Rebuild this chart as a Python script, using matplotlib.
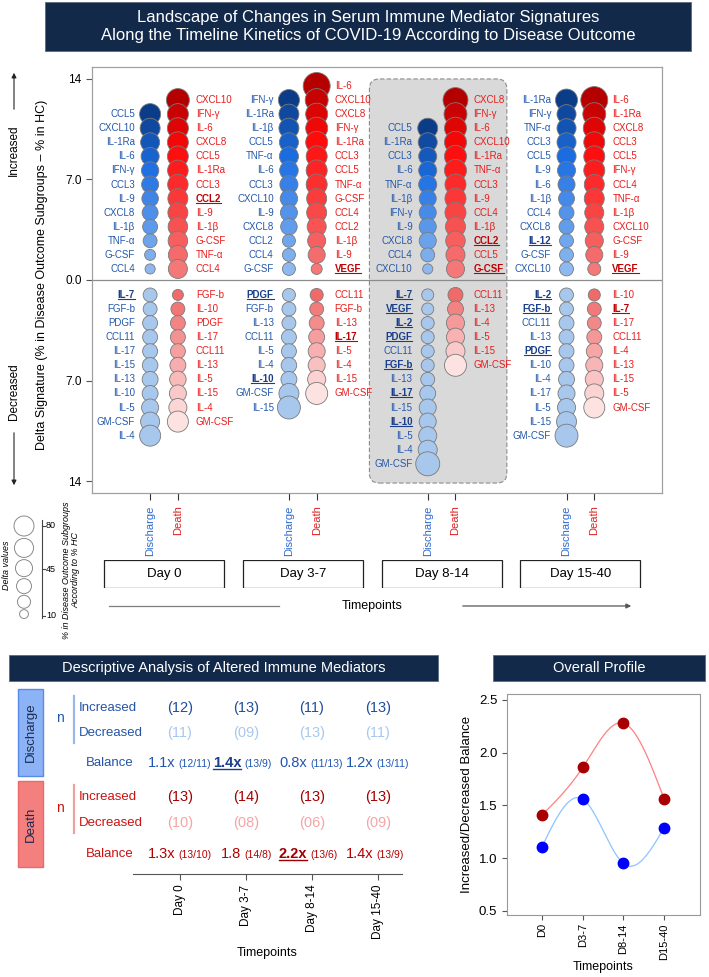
import numpy as np
import matplotlib
matplotlib.use('Agg')
import matplotlib.pyplot as plt
from matplotlib.patches import Rectangle, FancyBboxPatch
from matplotlib.lines import Line2D
from matplotlib.colors import LinearSegmentedColormap

plt.rcParams['font.family'] = ['Liberation Sans', 'DejaVu Sans']

W, H = 709, 977

# ---------------- data ----------------
days = ['Day 0', 'Day 3-7', 'Day 8-14', 'Day 15-40']
days_short = ['D0', 'D3-7', 'D8-14', 'D15-40']
groups = ['Discharge', 'Death']
boxed_day = 2

# mediators listed top to bottom, with bubble value (% in subgroup)
dis_up_names = [
    ['CCL5', 'CXCL10', 'IL-1Ra', 'IL-6', 'IFN-γ', 'CCL3', 'IL-9', 'CXCL8', 'IL-1β', 'TNF-α', 'G-CSF', 'CCL4'],
    ['IFN-γ', 'IL-1Ra', 'IL-1β', 'CCL5', 'TNF-α', 'IL-6', 'CCL3', 'CXCL10', 'IL-9', 'CXCL8', 'CCL2', 'CCL4', 'G-CSF'],
    ['CCL5', 'IL-1Ra', 'CCL3', 'IL-6', 'TNF-α', 'IL-1β', 'IFN-γ', 'IL-9', 'CXCL8', 'CCL4', 'CXCL10'],
    ['IL-1Ra', 'IFN-γ', 'TNF-α', 'CCL3', 'CCL5', 'IL-9', 'IL-6', 'IL-1β', 'CCL4', 'CXCL8', 'IL-12', 'G-CSF', 'CXCL10'],
]
dis_up_vals = [
    [73, 66, 60, 54, 50, 48, 45, 42, 37, 32, 20, 17],
    [73, 66, 66, 60, 60, 57, 54, 50, 48, 45, 28, 28, 28],
    [66, 60, 54, 54, 54, 48, 48, 48, 48, 32, 17],
    [80, 60, 60, 60, 60, 54, 48, 42, 37, 37, 32, 32, 32],
]
death_up_names = [
    ['CXCL10', 'IFN-γ', 'IL-6', 'CXCL8', 'CCL5', 'IL-1Ra', 'CCL3', 'CCL2', 'IL-9', 'IL-1β', 'G-CSF', 'TNF-α', 'CCL4'],
    ['IL-6', 'CXCL10', 'CXCL8', 'IFN-γ', 'IL-1Ra', 'CCL3', 'CCL5', 'TNF-α', 'G-CSF', 'CCL4', 'CCL2', 'IL-1β', 'IL-9', 'VEGF'],
    ['CXCL8', 'IFN-γ', 'IL-6', 'CXCL10', 'IL-1Ra', 'TNF-α', 'CCL3', 'IL-9', 'CCL4', 'IL-1β', 'CCL2', 'CCL5', 'G-CSF'],
    ['IL-6', 'IL-1Ra', 'CXCL8', 'CCL3', 'CCL5', 'IFN-γ', 'CCL4', 'TNF-α', 'IL-1β', 'CXCL10', 'G-CSF', 'IL-9', 'VEGF'],
]
death_up_vals = [
    [87, 73, 73, 72, 72, 70, 69, 66, 66, 63, 63, 60, 60],
    [120, 87, 80, 80, 80, 73, 73, 73, 66, 66, 60, 54, 48, 20],
    [103, 87, 80, 80, 80, 80, 73, 73, 73, 66, 63, 60, 54],
    [120, 87, 80, 73, 73, 73, 66, 66, 60, 60, 54, 48, 28],
]
dis_down_names = [
    ['IL-7', 'FGF-b', 'PDGF', 'CCL11', 'IL-17', 'IL-15', 'IL-13', 'IL-10', 'IL-5', 'GM-CSF', 'IL-4'],
    ['PDGF', 'FGF-b', 'IL-13', 'CCL11', 'IL-5', 'IL-4', 'IL-10', 'GM-CSF', 'IL-15'],
    ['IL-7', 'VEGF', 'IL-2', 'PDGF', 'CCL11', 'FGF-b', 'IL-13', 'IL-17', 'IL-15', 'IL-10', 'IL-5', 'IL-4', 'GM-CSF'],
    ['IL-2', 'FGF-b', 'CCL11', 'IL-13', 'PDGF', 'IL-10', 'IL-4', 'IL-17', 'IL-5', 'IL-15', 'GM-CSF'],
]
dis_down_vals = [
    [32, 32, 37, 37, 37, 40, 42, 42, 48, 60, 73],
    [28, 32, 32, 37, 37, 40, 42, 66, 87],
    [24, 24, 28, 28, 28, 28, 32, 42, 48, 48, 54, 60, 95],
    [32, 32, 37, 37, 37, 37, 42, 48, 54, 66, 87],
]
death_down_names = [
    ['FGF-b', 'IL-10', 'PDGF', 'IL-17', 'CCL11', 'IL-13', 'IL-5', 'IL-15', 'IL-4', 'GM-CSF'],
    ['CCL11', 'FGF-b', 'IL-13', 'IL-17', 'IL-5', 'IL-4', 'IL-15', 'GM-CSF'],
    ['CCL11', 'IL-13', 'IL-4', 'IL-5', 'IL-15', 'GM-CSF'],
    ['IL-10', 'IL-7', 'IL-17', 'CCL11', 'IL-4', 'IL-13', 'IL-15', 'IL-5', 'GM-CSF'],
]
death_down_vals = [
    [20, 32, 37, 37, 37, 42, 45, 48, 54, 73],
    [28, 32, 37, 42, 48, 48, 54, 80],
    [37, 42, 54, 54, 60, 80],
    [24, 32, 32, 37, 42, 48, 54, 60, 73],
]
# bold / underlined mediators
dis_up_hl = [[], [], [], ['IL-12']]
death_up_hl = [['CCL2'], ['VEGF'], ['CCL2', 'G-CSF'], ['VEGF']]
dis_down_hl = [['IL-7'], ['PDGF', 'IL-10'], ['IL-7', 'VEGF', 'IL-2', 'PDGF', 'FGF-b', 'IL-17', 'IL-10'],
               ['IL-2', 'FGF-b', 'PDGF']]
death_down_hl = [[], ['IL-17'], [], ['IL-7']]

legend_ticks = [80, 45, 10]
legend_circles = [66, 60, 48, 37, 28, 13]

# descriptive table
dis_inc = [12, 13, 11, 13]
dis_dec = [11, 9, 13, 11]
death_inc = [13, 14, 13, 13]
death_dec = [10, 8, 6, 9]
dis_bal = ['1.1x', '1.4x', '0.8x', '1.2x']
death_bal = ['1.3x', '1.8', '2.2x', '1.4x']
dis_bal_hl = 1
death_bal_hl = 2

# overall profile
profile_death = [1.41, 1.86, 2.28, 1.56]
profile_dis = [1.11, 1.56, 0.95, 1.29]

# ---------------- helpers ----------------
NAVY = '#12294a'


def rect(l, t, r, b):
    return [l / W, 1 - b / H, (r - l) / W, (b - t) / H]


def fx(x):
    return x / W


def fy(y):
    return 1 - y / H


def natural_cubic(xk, yk, num=200):
    xk = np.asarray(xk, float)
    yk = np.asarray(yk, float)
    n = len(xk)
    h = np.diff(xk)
    A = np.zeros((n, n))
    b = np.zeros(n)
    A[0, 0] = A[-1, -1] = 1
    for i in range(1, n - 1):
        A[i, i - 1] = h[i - 1]
        A[i, i] = 2 * (h[i - 1] + h[i])
        A[i, i + 1] = h[i]
        b[i] = 6 * ((yk[i + 1] - yk[i]) / h[i] - (yk[i] - yk[i - 1]) / h[i - 1])
    M = np.linalg.solve(A, b)
    xs = np.linspace(xk[0], xk[-1], num)
    idx = np.clip(np.searchsorted(xk, xs) - 1, 0, n - 2)
    x0, x1 = xk[idx], xk[idx + 1]
    hh = x1 - x0
    ys = (M[idx] * (x1 - xs) ** 3 + M[idx + 1] * (xs - x0) ** 3) / (6 * hh) \
        + (yk[idx] / hh - M[idx] * hh / 6) * (x1 - xs) \
        + (yk[idx + 1] / hh - M[idx + 1] * hh / 6) * (xs - x0)
    return xs, ys


underline = []

fig = plt.figure(figsize=(W / 100, H / 100), dpi=100)


def banner(l, t, r, b, text, size):
    fig.add_artist(Rectangle((fx(l), fy(b)), (r - l) / W, (b - t) / H,
                             transform=fig.transFigure, fc=NAVY, ec='#5a6a80', lw=0.6))
    fig.text(fx((l + r) / 2), fy((t + b) / 2), text, color='white', fontsize=size,
             ha='center', va='center', linespacing=1.25)


banner(45, 2, 691, 51, 'Landscape of Changes in Serum Immune Mediator Signatures\n'
       'Along the Timeline Kinetics of COVID-19 According to Disease Outcome', 12)

# ---------------- main bubble panel ----------------
c0, dx = 164, 138.8         # pixel centre of day 0 and spacing
off = 0.1
pxu = 14.36                 # pixels per y unit
L = 213 / pxu
up0, dn0, step = 0.77, -1.04, 0.98
SIZE = 3.14

ax = fig.add_axes(rect(92, 67, 662, 493))
ax.set_xlim((92 - c0) / dx, (662 - c0) / dx)
ax.set_ylim(-L, L)

cm_up_blue = LinearSegmentedColormap.from_list('ub', [(0, '#0b3c88'), (0.35, '#1c6fe3'), (1, '#8db9f0')])
cm_up_red = LinearSegmentedColormap.from_list('ur', [(0, '#b50000'), (0.3, '#ff0a0a'), (1, '#f47878')])
cm_dn_red = LinearSegmentedColormap.from_list('dr', ['#f06a6a', '#fde2e2'])
cm_dn_blue = LinearSegmentedColormap.from_list('db', ['#a7c7ed', '#a7c7ed'])


def stack(x, names, vals, hl, up, left, cmap):
    n = len(names)
    i = np.arange(n)
    ys = up0 + step * (n - 1 - i) if up else dn0 - step * i
    t = i / max(n - 1, 1)
    ax.scatter(np.full(n, x), ys, s=np.array(vals) * SIZE, c=cmap(t),
               edgecolors='#7a7a7a', linewidths=0.6, zorder=3)
    for name, y in zip(names, ys):
        bold = name in hl
        if left:
            col = '#1a3f8a' if bold else '#2358aa'
        else:
            col = '#c00000' if bold else '#e81c1c'
        tx = ax.annotate(name, (x, y), xytext=(-11 if left else 13, 0), textcoords='offset points',
                         ha='right' if left else 'left', va='center', fontsize=7, color=col,
                         fontweight='bold' if bold else 'normal', zorder=4)
        if bold:
            underline.append((tx, col, 0.8))


box = FancyBboxPatch((boxed_day - 0.52, -14.14), 0.99, 28.14,
                     boxstyle='round,pad=0,rounding_size=0.07', mutation_aspect=dx / pxu,
                     fc='#d9d9d9', ec='#8c8c8c', ls=(0, (4, 2)), lw=0.8, zorder=0.5)
ax.add_patch(box)
ax.axhline(0, color='#8c8c8c', lw=0.9, zorder=1)

for d in range(len(days)):
    stack(d - off, dis_up_names[d], dis_up_vals[d], dis_up_hl[d], True, True, cm_up_blue)
    stack(d + off, death_up_names[d], death_up_vals[d], death_up_hl[d], True, False, cm_up_red)
    stack(d - off, dis_down_names[d], dis_down_vals[d], dis_down_hl[d], False, True, cm_dn_blue)
    stack(d + off, death_down_names[d], death_down_vals[d], death_down_hl[d], False, False, cm_dn_red)

xt, xl = [], []
for d in range(len(days)):
    xt += [d - off, d + off]
    xl += groups
ax.set_xticks(xt)
ax.set_xticklabels(xl, rotation=90, fontsize=8)
for lab in ax.get_xticklabels():
    lab.set_color('#2e6ad0' if lab.get_text() == 'Discharge' else '#e02020')
ax.tick_params(axis='x', length=5, pad=4, color='#333333')
ax.set_yticks([-14, -7, 0, 7, 14])
ax.set_yticklabels(['14', '7.0', '0.0', '7.0', '14'], fontsize=8.5)
ax.tick_params(axis='y', length=4, color='#555555')
for sp in ax.spines.values():
    sp.set_color('#a0a0a0')
    sp.set_linewidth(0.9)

fig.text(fx(42), fy(275), 'Delta Signature (% in Disease Outcome Subgroups – % in HC)',
         rotation=90, ha='center', va='center', fontsize=9)
fig.text(fx(14), fy(150), 'Increased', rotation=90, ha='center', va='center', fontsize=8.5)
fig.text(fx(14), fy(392), 'Decreased', rotation=90, ha='center', va='center', fontsize=8.5)
arr = dict(arrowstyle='-|>', color='#222222', lw=0.8, mutation_scale=7)
ax.annotate('', xy=(fx(14), fy(70)), xytext=(fx(14), fy(112)), xycoords='figure fraction',
            textcoords='figure fraction', arrowprops=arr, annotation_clip=False)
ax.annotate('', xy=(fx(14), fy(488)), xytext=(fx(14), fy(430)), xycoords='figure fraction',
            textcoords='figure fraction', arrowprops=arr, annotation_clip=False)

# day boxes
axd = fig.add_axes(rect(92, 560, 662, 588))
axd.set_xlim(ax.get_xlim())
axd.set_ylim(0, 1)
axd.axis('off')
bw = 120 / dx
for d, name in enumerate(days):
    axd.add_patch(Rectangle((d - bw / 2, 0), bw, 1, fc='white', ec='#222222', lw=0.9))
    axd.text(d, 0.5, name, ha='center', va='center', fontsize=9.5)

# timeline
fig.add_artist(Line2D([fx(109), fx(279)], [fy(606), fy(606)], transform=fig.transFigure,
                      color='#7f7f7f', lw=0.9))
fig.text(fx(372), fy(606), 'Timepoints', ha='center', va='center', fontsize=9)
ax.annotate('', xy=(fx(634), fy(606)), xytext=(fx(460), fy(606)), xycoords='figure fraction',
            textcoords='figure fraction', annotation_clip=False,
            arrowprops=dict(arrowstyle='-|>', color='#555555', lw=0.9, mutation_scale=7))

# size legend
axl = fig.add_axes(rect(0, 505, 100, 635))
axl.set_xlim(0, 100)
axl.set_ylim(635, 505)
axl.axis('off')
ly = 526 + np.concatenate([[0], np.cumsum([(np.sqrt(a) + np.sqrt(b)) * 1.38 for a, b in
                                           zip(legend_circles[:-1], legend_circles[1:])])])
axl.scatter(np.full(len(legend_circles), 24), ly, s=np.array(legend_circles) * SIZE,
            fc='white', ec='#8a8a8a', lw=0.7, clip_on=False)
tick_y = np.interp(legend_ticks, [10, 45, 80], [616, 569, 526])
axl.plot([42, 42], [520, 618], color='#444444', lw=0.8)
for v, y in zip(legend_ticks, tick_y):
    axl.plot([42, 45], [y, y], color='#444444', lw=0.8)
    axl.text(46, y, str(v), fontsize=6.5, va='center', ha='left')
axl.text(7, 565, 'Delta values', rotation=90, fontsize=6.5, style='italic', ha='center', va='center')
axl.text(71, 570, '% in Disease Outcome Subgroups\nAccording to % HC', rotation=90, fontsize=6.5,
         style='italic', ha='center', va='center', multialignment='center', linespacing=1.1)

# ---------------- descriptive table ----------------
banner(9, 655, 438, 681, 'Descriptive Analysis of Altered Immune Mediators', 10.5)

fig.add_artist(Rectangle((fx(18), fy(776)), 25 / W, 87 / H, transform=fig.transFigure,
                         fc='#8db3f7', ec='#5a8ae8', lw=1))
fig.text(fx(30.5), fy(732), 'Discharge', rotation=90, ha='center', va='center', fontsize=9.5,
         color='#1b2a4e')
fig.add_artist(Rectangle((fx(18), fy(867)), 25 / W, 86 / H, transform=fig.transFigure,
                         fc='#f47f7f', ec='#e96a6a', lw=1))
fig.text(fx(30.5), fy(824), 'Death', rotation=90, ha='center', va='center', fontsize=9.5,
         color='#1b2a4e')

rows = [
    (708, 733, 767, dis_inc, dis_dec, dis_bal, dis_bal_hl,
     '#2454a6', '#1f4e9e', '#a9c8ee', '#1f55b0', '#9cb8e8', '#1a3f8a'),
    (797, 823, 858, death_inc, death_dec, death_bal, death_bal_hl,
     '#cc1111', '#a30000', '#f6a5a5', '#b30000', '#f0a0a0', '#a00000'),
]

axt = fig.add_axes(rect(133, 686, 402, 874))
axt.set_xlim((133 - 180) / 66, (402 - 180) / 66)
axt.set_ylim(874, 686)
for name in ['top', 'left', 'right']:
    axt.spines[name].set_visible(False)
axt.spines['bottom'].set_color('#555555')
axt.set_yticks([])
axt.set_xticks(range(len(days)))
axt.set_xticklabels(days, rotation=90, fontsize=8.5)
axt.tick_params(axis='x', length=4, color='#555555')
axt.set_xlabel('Timepoints', fontsize=9, labelpad=6)

for (yi, yd, yb, inc, dec, bal, hl, lc, ic, dc, bc, barc, hc) in rows:
    fig.text(fx(60), fy((yi + yd) / 2 - 2), 'n', ha='center', va='center', fontsize=10, color=lc)
    fig.add_artist(Line2D([fx(74), fx(74)], [fy(yi - 12), fy(yd + 10)], transform=fig.transFigure,
                          color=barc, lw=1.6))
    fig.text(fx(79), fy(yi), 'Increased', ha='left', va='center', fontsize=9.5, color=lc)
    fig.text(fx(79), fy(yd), 'Decreased', ha='left', va='center', fontsize=9.5, color=lc)
    fig.text(fx(110), fy(yb - 4), 'Balance', ha='center', va='center', fontsize=9.5, color=lc)
    for d in range(len(days)):
        axt.text(d, yi, '(%02d)' % inc[d], ha='center', va='center', fontsize=10.5, color=ic,
                 clip_on=False)
        axt.text(d, yd, '(%02d)' % dec[d], ha='center', va='center', fontsize=10.5, color=dc,
                 clip_on=False)
        bold = d == hl
        t1 = axt.text(d - 0.07, yb, bal[d], ha='right', va='baseline', fontsize=10.5,
                      color=hc if bold else bc, fontweight='bold' if bold else 'normal', clip_on=False)
        axt.text(d - 0.03, yb, '(%d/%d)' % (inc[d], dec[d]), ha='left', va='baseline', fontsize=7.5,
                 color=bc, clip_on=False)
        if bold:
            underline.append((t1, hc, 1.0))

# ---------------- overall profile ----------------
banner(493, 655, 705, 681, 'Overall Profile', 10.5)
axp = fig.add_axes(rect(507, 694, 700, 915))
xp = np.arange(len(days_short))
for vals, lc, mc in [(profile_death, '#ff8080', '#a80000'), (profile_dis, '#8cc4ff', '#0000ff')]:
    xs, ys = natural_cubic(xp, vals)
    axp.plot(xs, ys, color=lc, lw=0.9, zorder=2)
    axp.plot(xp, vals, 'o', color=mc, ms=7.5, mec=mc, zorder=3)
axp.set_xlim(-0.86, 3.88)
axp.set_ylim(0.462, 2.556)
axp.set_yticks([0.5, 1.0, 1.5, 2.0, 2.5])
axp.set_yticklabels(['0.5', '1.0', '1.5', '2.0', '2.5'], fontsize=9.5)
axp.set_xticks(xp)
axp.set_xticklabels(days_short, rotation=90, fontsize=8)
axp.tick_params(length=3.5, color='#555555')
axp.tick_params(axis='x', pad=2.5)
for sp in axp.spines.values():
    sp.set_color('#999999')
axp.set_ylabel('Increased/Decreased Balance', fontsize=9.5)
axp.set_xlabel('Timepoints', fontsize=9, labelpad=1)

# underlines for highlighted labels
fig.canvas.draw()
for t, c, lw in underline:
    bb = t.get_window_extent()
    y = bb.y0 + 1
    fig.add_artist(Line2D([bb.x0 / W, bb.x1 / W], [y / H, y / H], transform=fig.transFigure,
                          color=c, lw=lw))

fig.savefig('out.png', dpi=100)
